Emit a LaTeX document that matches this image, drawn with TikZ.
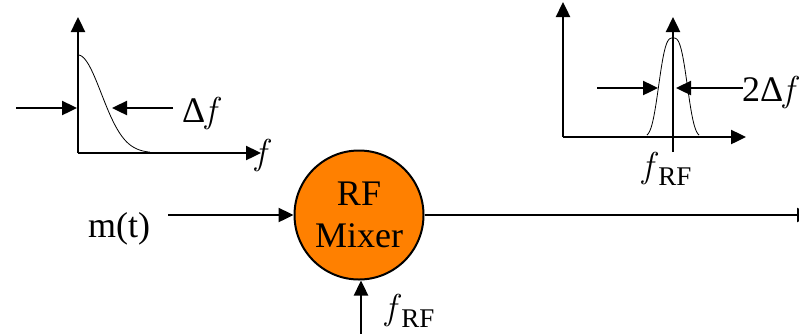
\documentclass[tikz,border=0pt]{standalone}
\usepackage{fontspec}
\setmainfont{Liberation Serif}
\newfontfamily\lmfam{Latin Modern Roman}
\usetikzlibrary{arrows.meta}
\newcommand{\itf}{{\lmfam\itshape f\/}}
\begin{document}
\begin{tikzpicture}[x=1pt,y=-1pt,
  arr/.style={-{Triangle[length=15pt,width=14pt]}, line width=2.4pt},
  lbl/.style={inner sep=0pt, anchor=base west, font=\fontsize{36}{40}\selectfont}]
\useasboundingbox (0,0) rectangle (799,333);
% left spectrum
\coordinate (lo) at (78,153);
\coordinate (ly) at (78,17);
\coordinate (lx) at (261,153);
\draw[arr] (lo) -- (ly);
\draw[arr] (lo) -- (lx);
\draw[line width=0.8pt] plot[domain=0:72, samples=80] ({78+\x},{153-98*exp(-(\x/33)^2)});
\coordinate (la1) at (16,108);
\coordinate (la2) at (77,108);
\coordinate (lb1) at (173,108);
\coordinate (lb2) at (112,108);
\draw[arr] (la1) -- (la2);
\draw[arr] (lb1) -- (lb2);
\node[lbl] (df) at (182,122) {Δ\itf};
\node[lbl] (fax) at (255,164) {\itf};
% right spectrum
\coordinate (ro) at (563,137);
\coordinate (ry) at (563,2);
\coordinate (rx) at (746,137);
\coordinate (rc0) at (673,152);
\coordinate (rc1) at (673,17);
\draw[arr] (ro) -- (ry);
\draw[arr] (ro) -- (rx);
\draw[arr] (rc0) -- (rc1);
\draw[line width=0.8pt] plot[domain=-26:26, samples=120] ({673+\x},{137-99*exp(-(abs(\x)/16.5)^3)});
\coordinate (ra1) at (597,88);
\coordinate (ra2) at (658,88);
\coordinate (rb1) at (743,88);
\coordinate (rb2) at (676,88);
\draw[arr] (ra1) -- (ra2);
\draw[arr] (rb1) -- (rb2);
\node[lbl] (tdf) at (742,101) {2Δ\itf};
\node[lbl] (frf1) at (642,177) {\itf\raisebox{-8pt}{\fontsize{27}{30}\selectfont RF}};
% mixer
\node[circle, draw, line width=2pt, fill={rgb,255:red,255;green,128;blue,0},
      minimum size=129pt, inner sep=0pt, align=center,
      font=\fontsize{36}{44}\selectfont] (mix) at (359,215) {RF\\[-2pt]Mixer};
\node[lbl] (m) at (88,237) {m(t)};
\coordinate (min) at (168,215);
\draw[arr] (min) -- (mix.west);
\coordinate (out) at (812,215);
\draw[arr] (mix.east) -- (out);
\coordinate (fin) at (361,345);
\draw[arr] (fin) -- (fin |- mix.south);
\node[lbl] (frf2) at (385,319) {\itf\raisebox{-8pt}{\fontsize{27}{30}\selectfont RF}};
\end{tikzpicture}
\end{document}
